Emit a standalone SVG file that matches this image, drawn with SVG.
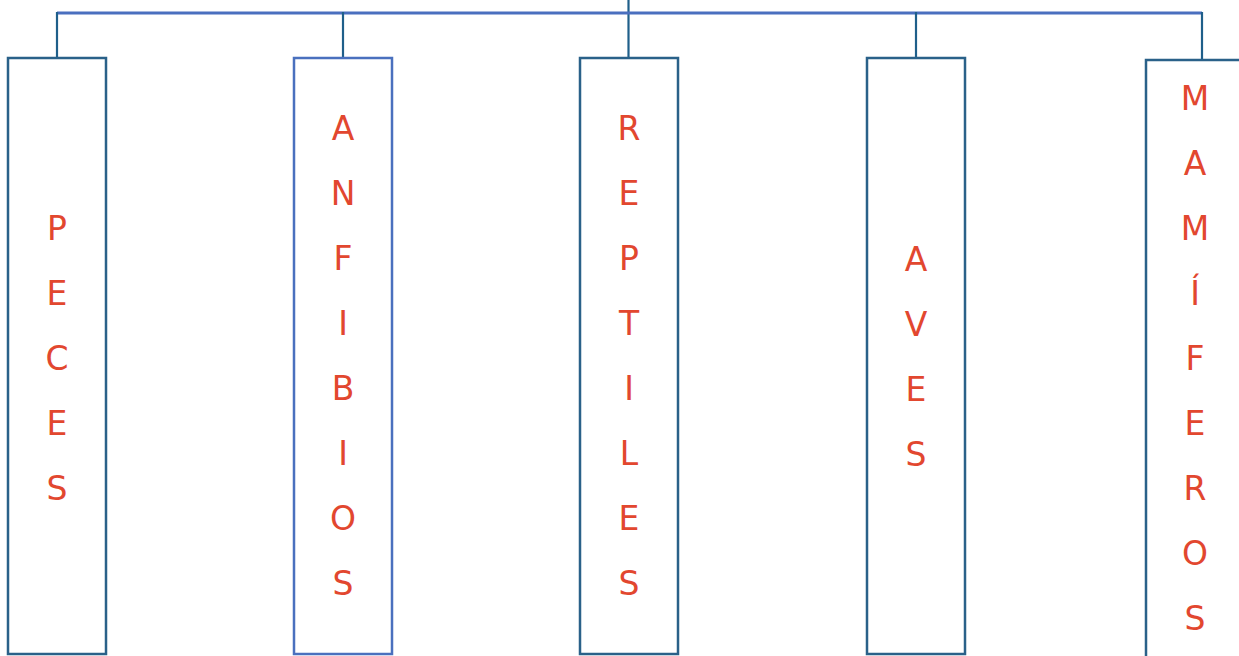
<svg xmlns="http://www.w3.org/2000/svg" width="1239" height="656" viewBox="0 0 1239 656">
<style>
.box{fill:#fff;stroke:#2A6189;stroke-width:2.5}
.blue{stroke:#4A70BE}
.lbl{font-family:"DejaVu Sans",Verdana,sans-serif;font-size:33px;fill:#E2472F;text-anchor:middle}
.conn{stroke:#1F5F8A;stroke-width:2.2;fill:none}
.bar{stroke:#4A6FBF;stroke-width:3;fill:none}
</style>
<rect width="1239" height="656" fill="#fff"/>
<g id="connectors">
<line class="conn" x1="628.5" y1="0" x2="628.5" y2="58"/>
<line class="bar" x1="57" y1="13" x2="1202" y2="13"/>
<line class="conn" x1="57" y1="12" x2="57" y2="58"/>
<line class="conn" x1="343" y1="12" x2="343" y2="58"/>
<line class="conn" x1="916" y1="12" x2="916" y2="58"/>
<line class="conn" x1="1202" y1="12" x2="1202" y2="60"/>
</g>
<g id="peces">
<rect class="box" x="8" y="58" width="98" height="596"/>
<text class="lbl" x="57" y="240">P</text>
<text class="lbl" x="57" y="305">E</text>
<text class="lbl" x="57" y="370">C</text>
<text class="lbl" x="57" y="435">E</text>
<text class="lbl" x="57" y="500">S</text>
</g>
<g id="anfibios">
<rect class="box blue" x="294" y="58" width="98" height="596"/>
<text class="lbl" x="343" y="140">A</text>
<text class="lbl" x="343" y="205">N</text>
<text class="lbl" x="343" y="270">F</text>
<text class="lbl" x="343" y="335">I</text>
<text class="lbl" x="343" y="400">B</text>
<text class="lbl" x="343" y="465">I</text>
<text class="lbl" x="343" y="530">O</text>
<text class="lbl" x="343" y="595">S</text>
</g>
<g id="reptiles">
<rect class="box" x="580" y="58" width="98" height="596"/>
<text class="lbl" x="629" y="140">R</text>
<text class="lbl" x="629" y="205">E</text>
<text class="lbl" x="629" y="270">P</text>
<text class="lbl" x="629" y="335">T</text>
<text class="lbl" x="629" y="400">I</text>
<text class="lbl" x="629" y="465">L</text>
<text class="lbl" x="629" y="530">E</text>
<text class="lbl" x="629" y="595">S</text>
</g>
<g id="aves">
<rect class="box" x="867" y="58" width="98" height="596"/>
<text class="lbl" x="916" y="271">A</text>
<text class="lbl" x="916" y="336">V</text>
<text class="lbl" x="916" y="401">E</text>
<text class="lbl" x="916" y="466">S</text>
</g>
<g id="mamiferos">
<rect class="box" x="1146" y="60" width="100" height="610"/>
<text class="lbl" x="1195" y="110">M</text>
<text class="lbl" x="1195" y="175">A</text>
<text class="lbl" x="1195" y="240">M</text>
<text class="lbl" x="1195" y="305">Í</text>
<text class="lbl" x="1195" y="370">F</text>
<text class="lbl" x="1195" y="435">E</text>
<text class="lbl" x="1195" y="500">R</text>
<text class="lbl" x="1195" y="565">O</text>
<text class="lbl" x="1195" y="630">S</text>
</g>
</svg>
